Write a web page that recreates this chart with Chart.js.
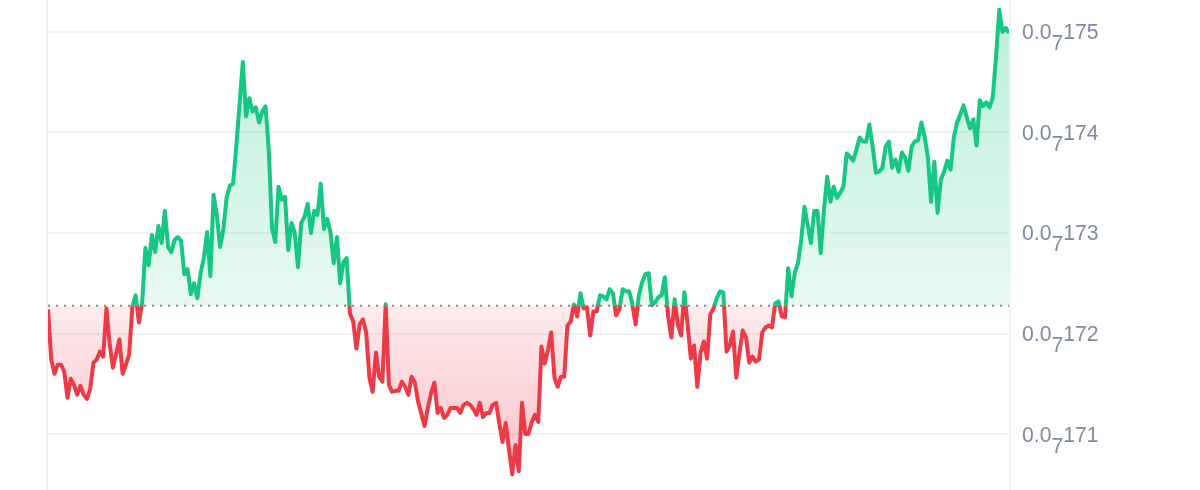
<!DOCTYPE html>
<html>
<head>
<meta charset="utf-8">
<style>
  html, body { margin: 0; padding: 0; background: #fff; }
  canvas { display: block; }
</style>
<script src="https://cdn.jsdelivr.net/npm/chart.js@4"></script>
</head>
<body>
<canvas id="priceChart" width="1200" height="490"></canvas>
<script>
// prix sur 24h, un point toutes les 5 min environ
const prices = [
  172.24, 171.74, 171.60, 171.69, 171.69, 171.62, 171.36, 171.55, 171.49, 171.39,
  171.48, 171.39, 171.35, 171.45, 171.71, 171.74, 171.82, 171.77, 172.25, 171.89,
  171.66, 171.80, 171.94, 171.60, 171.69, 171.79, 172.27, 172.38, 172.11, 172.31,
  172.85, 172.68, 172.98, 172.81, 173.07, 172.90, 173.22, 172.86, 172.81, 172.93,
  172.96, 172.92, 172.59, 172.64, 172.39, 172.50, 172.35, 172.60, 172.75, 173.01,
  172.57, 173.38, 173.18, 172.86, 173.03, 173.35, 173.47, 173.49, 173.86, 174.28,
  174.70, 174.16, 174.34, 174.21, 174.25, 174.10, 174.21, 174.26, 173.83, 173.05,
  172.91, 173.46, 173.33, 173.36, 172.83, 173.10, 173.00, 172.66, 173.10, 173.16,
  173.29, 173.00, 173.22, 173.18, 173.49, 173.04, 173.14, 173.01, 172.70, 172.96,
  172.50, 172.71, 172.75, 172.20, 172.12, 171.85, 172.09, 172.14, 172.01, 171.56,
  171.42, 171.81, 171.57, 171.52, 172.29, 171.49, 171.42, 171.43, 171.43, 171.52,
  171.47, 171.39, 171.57, 171.51, 171.32, 171.20, 171.08, 171.26, 171.41, 171.51,
  171.21, 171.26, 171.16, 171.19, 171.26, 171.26, 171.26, 171.21, 171.29, 171.31,
  171.29, 171.25, 171.19, 171.31, 171.17, 171.21, 171.21, 171.29, 171.31, 171.11,
  170.92, 171.11, 170.84, 170.60, 170.89, 170.63, 171.31, 171.00, 171.00, 171.12,
  171.19, 171.12, 171.87, 171.70, 171.84, 172.01, 171.56, 171.47, 171.57, 171.57,
  172.08, 172.12, 172.29, 172.17, 172.40, 172.25, 172.26, 171.98, 172.22, 172.22,
  172.38, 172.37, 172.34, 172.44, 172.40, 172.18, 172.24, 172.44, 172.42, 172.42,
  172.29, 172.09, 172.38, 172.51, 172.59, 172.60, 172.28, 172.31, 172.36, 172.38,
  172.56, 172.17, 171.96, 172.34, 172.09, 171.98, 172.41, 172.09, 171.75, 171.88,
  171.47, 171.81, 171.92, 171.75, 172.19, 172.25, 172.35, 172.42, 172.41, 171.82,
  171.88, 172.02, 171.56, 171.81, 172.03, 171.96, 171.71, 171.77, 171.72, 171.74,
  172.01, 172.06, 172.08, 172.06, 172.30, 172.32, 172.17, 172.16, 172.65, 172.37,
  172.60, 172.70, 172.93, 173.26, 173.08, 172.90, 173.22, 173.22, 172.80, 173.23,
  173.56, 173.31, 173.46, 173.35, 173.40, 173.46, 173.79, 173.76, 173.72, 173.83,
  173.95, 173.91, 173.91, 174.08, 173.86, 173.60, 173.61, 173.65, 173.86, 173.91,
  173.65, 173.73, 173.61, 173.80, 173.75, 173.62, 173.86, 173.91, 173.92, 174.10,
  173.96, 173.76, 173.31, 173.71, 173.20, 173.53, 173.61, 173.72, 173.63, 173.95,
  174.10, 174.18, 174.27, 174.15, 174.04, 174.13, 173.87, 174.32, 174.26, 174.30,
  174.25, 174.35, 174.75, 175.22, 175.00, 175.04, 174.99
];
const labels = prices.map((p, i) => i);
const baseline = 172.275;
const yMin = 170.443;
const yMax = 175.318;
const tickValues = [171, 172, 173, 174, 175];
const tickDigits = ['171', '172', '173', '174', '175'];
const tickLead = '0.0';
const tickZeros = '7';

const GREEN = '#16c784';
const RED = '#ed3a47';
const AXIS_COLOR = '#f1f2f4';
const LABEL_COLOR = '#808a9d';
const LABEL_FONT = '21.2px "Liberation Sans", Arial, sans-serif';

// position de la ligne de base dans le dégradé (0 = haut, 1 = bas)
function baseStop(chart) {
    const { top, bottom } = chart.chartArea;
    return (chart.scales.y.getPixelForValue(baseline) - top) / (bottom - top);
}

function verticalGradient(chart) {
    const { top, bottom } = chart.chartArea;
    return chart.ctx.createLinearGradient(0, top, 0, bottom);
}

function lineGradient(chart) {
    if (!chart.chartArea) return GREEN;
    const g = verticalGradient(chart);
    const s = baseStop(chart);
    g.addColorStop(0, GREEN);
    g.addColorStop(s, GREEN);
    g.addColorStop(s, RED);
    g.addColorStop(1, RED);
    return g;
}

function aboveGradient(chart) {
    if (!chart.chartArea) return 'transparent';
    const g = verticalGradient(chart);
    const s = baseStop(chart);
    g.addColorStop(0, 'rgba(22, 199, 132, 0.3)');
    g.addColorStop(s, 'rgba(22, 199, 132, 0.1)');
    g.addColorStop(Math.min(s + 0.001, 1), 'rgba(22, 199, 132, 0.1)');
    return g;
}

function belowGradient(chart) {
    if (!chart.chartArea) return 'transparent';
    const g = verticalGradient(chart);
    const s = baseStop(chart);
    g.addColorStop(s, 'rgba(237, 58, 71, 0.1)');
    g.addColorStop(0.96, 'rgba(237, 58, 71, 0.3)');
    return g;
}

// lignes verticales, ligne de base pointillée et libellés de l'axe
const decorations = {
    id: 'decorations',
    afterDatasetsDraw(chart) {
        const { ctx, chartArea, scales } = chart;
        const y = scales.y.getPixelForValue(baseline);
        ctx.save();
        ctx.strokeStyle = '#85898f';
        ctx.lineWidth = 2;
        ctx.setLineDash([2, 6]);
        ctx.beginPath();
        ctx.moveTo(chartArea.left, y);
        ctx.lineTo(chartArea.right, y);
        ctx.stroke();
        ctx.restore();
    },
    afterDraw(chart) {
        const { ctx, chartArea, scales } = chart;
        ctx.save();
        ctx.strokeStyle = AXIS_COLOR;
        ctx.lineWidth = 2;
        [chartArea.left - 1, chartArea.right + 1].forEach(x => {
            ctx.beginPath();
            ctx.moveTo(x, chartArea.top);
            ctx.lineTo(x, chartArea.bottom);
            ctx.stroke();
        });

        ctx.font = LABEL_FONT;
        ctx.fillStyle = LABEL_COLOR;
        ctx.textBaseline = 'alphabetic';
        tickValues.forEach((value, i) => {
            const base = scales.y.getPixelForValue(value) + 7.5;
            let x = chartArea.right + 13;
            ctx.fillText(tickLead, x, base);
            x += ctx.measureText(tickLead).width;
            ctx.fillText(tickZeros, x, base + 11);
            x += ctx.measureText(tickZeros).width;
            ctx.fillText(tickDigits[i], x, base);
        });
        ctx.restore();
    }
};

new Chart(document.getElementById('priceChart'), {
    type: 'line',
    data: {
        labels: labels,
        datasets: [{
            data: prices,
            borderColor: ctx => lineGradient(ctx.chart),
            borderWidth: 4,
            borderJoinStyle: 'round',
            tension: 0,
            pointRadius: 0,
            fill: {
                target: { value: baseline },
                above: ctx => aboveGradient(ctx.chart),
                below: ctx => belowGradient(ctx.chart)
            }
        }]
    },
    options: {
        responsive: false,
        animation: false,
        devicePixelRatio: 1,
        layout: { padding: { left: 48, right: 191, top: 0, bottom: 0 } },
        plugins: {
            legend: { display: false },
            tooltip: { enabled: false }
        },
        scales: {
            x: { display: false },
            y: {
                position: 'right',
                min: yMin,
                max: yMax,
                afterBuildTicks: scale => {
                    scale.ticks = tickValues.map(value => ({ value }));
                },
                afterFit: scale => { scale.width = 0; },
                border: { display: false },
                grid: { color: AXIS_COLOR, lineWidth: 2, drawTicks: false },
                ticks: { display: false }
            }
        }
    },
    plugins: [decorations]
});
</script>
</body>
</html>
